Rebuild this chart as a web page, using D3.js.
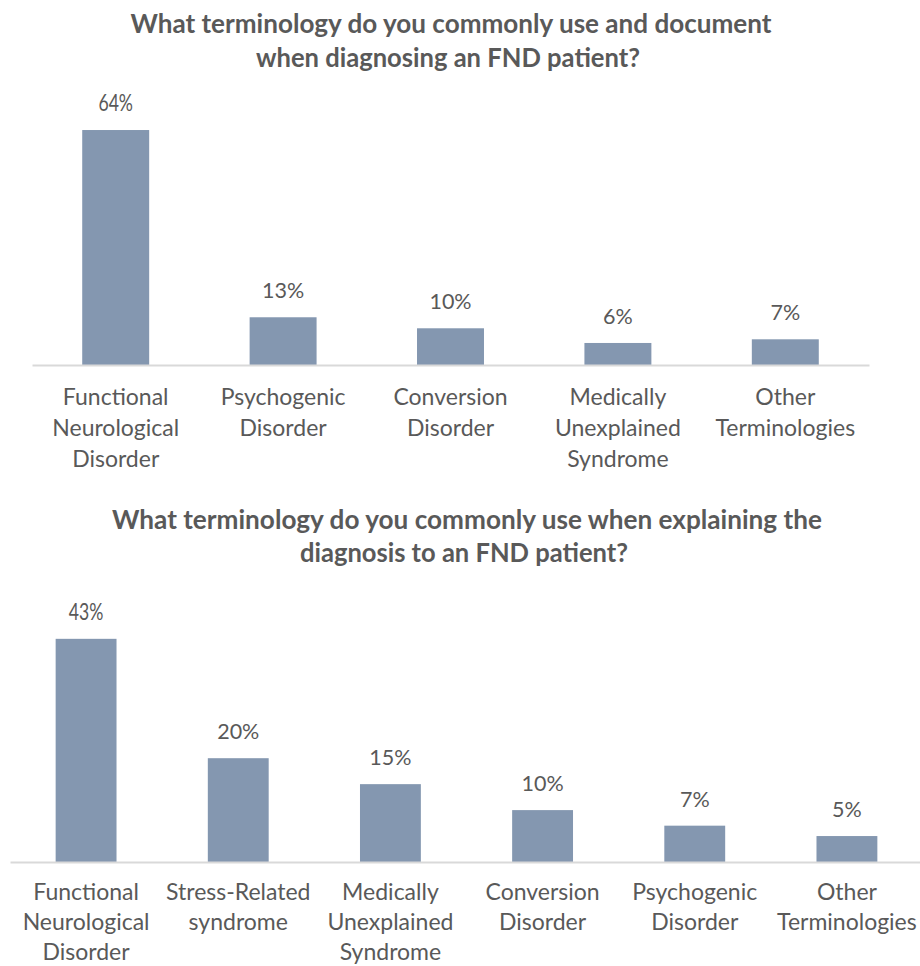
<!DOCTYPE html>
<html>
<head>
<meta charset="utf-8">
<script src="https://cdn.jsdelivr.net/npm/d3@7"></script>
<style>
  html, body { margin: 0; padding: 0; background: #fff; }
  svg { display: block; }
</style>
</head>
<body>
<svg id="chart" width="920" height="966"></svg>
<script>
// ---- Data ----
const title1 = ["What terminology do you commonly use and document", "when diagnosing an FND patient?"];
const categories1 = ["Functional\nNeurological\nDisorder", "Psychogenic\nDisorder", "Conversion\nDisorder", "Medically\nUnexplained\nSyndrome", "Other\nTerminologies"];
const values1 = [64, 13, 10, 6, 7];

const title2 = ["What terminology do you commonly use when explaining the", "diagnosis to an FND patient?"];
const categories2 = ["Functional\nNeurological\nDisorder", "Stress-Related\nsyndrome", "Medically\nUnexplained\nSyndrome", "Conversion\nDisorder", "Psychogenic\nDisorder", "Other\nTerminologies"];
const values2 = [43, 20, 15, 10, 7, 5];

// ---- Styles ----
const barColor = "#8497B0";
const textColor = "#595959";
const axisColor = "#D9D9D9";
const font = "Lato, 'Open Sans', sans-serif";

const svg = d3.select("#chart");

function drawChart(cfg) {
  const g = svg.append("g");

  // Title
  g.selectAll("text.title").data(cfg.title).join("text")
    .attr("class", "title")
    .attr("x", (d, i) => cfg.titleX[i])
    .attr("y", (d, i) => cfg.titleY[i])
    .attr("text-anchor", "middle")
    .attr("font-family", font)
    .attr("font-weight", 700)
    .attr("font-size", 26)
    .attr("fill", textColor)
    .attr("textLength", (d, i) => cfg.titleW[i])
    .attr("lengthAdjust", "spacingAndGlyphs")
    .text(d => d);

  const x = d3.scaleBand()
    .domain(cfg.categories)
    .range(cfg.xRange)
    .paddingInner(0.6)
    .paddingOuter(0.3);

  const y = d3.scaleLinear()
    .domain(cfg.yDomain)
    .range([cfg.baseline, cfg.yTop]);

  // Bars
  g.selectAll("rect.bar").data(cfg.values).join("rect")
    .attr("class", "bar")
    .attr("x", (d, i) => x(cfg.categories[i]))
    .attr("width", x.bandwidth())
    .attr("y", d => y(d))
    .attr("height", d => y(0) - y(d))
    .attr("fill", barColor);

  // Axis
  const axis = d3.axisBottom(x).tickSize(0).tickFormat("");
  const ax = g.append("g")
    .attr("transform", `translate(0,${cfg.baseline})`)
    .call(axis);
  ax.select(".domain").attr("stroke", axisColor).attr("stroke-width", 2);

  // Category labels (multi-line)
  const labels = g.selectAll("text.cat").data(cfg.categories).join("text")
    .attr("class", "cat")
    .attr("text-anchor", "middle")
    .attr("font-family", font)
    .attr("font-size", 23)
    .attr("fill", textColor)
    .attr("transform", d => `translate(${x(d) + x.bandwidth() / 2},${cfg.baseline + cfg.labelOffset})`);
  labels.each(function (d) {
    const lines = d.split("\n");
    d3.select(this).selectAll("tspan").data(lines).join("tspan")
      .attr("x", 0)
      .attr("y", (l, i) => i * cfg.lineGap)
      .text(l => l);
  });

  // Value labels
  g.selectAll("text.val").data(cfg.values).join("text")
    .attr("class", "val")
    .attr("text-anchor", "middle")
    .attr("font-family", font)
    .attr("font-size", 21.5)
    .attr("fill", textColor)
    .attr("transform", (d, i) => {
      const cx = x(cfg.categories[i]) + x.bandwidth() / 2;
      const s = i === 0 ? 0.82 : 1;
      const sy = i === 0 ? 1.1 : 1;
      return `translate(${cx},${y(d) - 19}) scale(${s},${sy})`;
    })
    .text(d => d + "%");
}

drawChart({
  title: title1,
  titleX: [451, 448],
  titleY: [33, 67],
  titleW: [641, 384],
  categories: categories1,
  values: values1,
  xRange: [32, 869],
  yDomain: [0, 70],
  baseline: 365,
  yTop: 108,
  labelOffset: 40,
  lineGap: 31
});

drawChart({
  title: title2,
  titleX: [467, 464],
  titleY: [529, 562],
  titleW: [710, 328],
  categories: categories2,
  values: values2,
  xRange: [10, 923],
  yDomain: [0, 50],
  baseline: 862,
  yTop: 602.5,
  labelOffset: 38,
  lineGap: 30
});
</script>
</body>
</html>
